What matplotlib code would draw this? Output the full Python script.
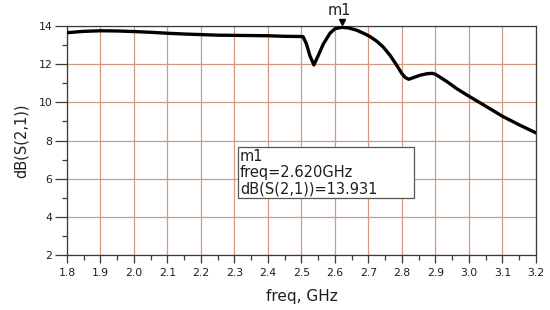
import matplotlib
matplotlib.use("Agg")
import matplotlib.pyplot as plt
import matplotlib.transforms as mtransforms
from matplotlib.patches import Rectangle

plt.rcParams['font.family'] = ['DejaVu Sans']

freq_ghz = [1.80, 1.85, 1.90, 1.95, 2.00, 2.05, 2.10, 2.15, 2.20, 2.25, 2.30,
            2.35, 2.40, 2.45, 2.50, 2.505, 2.515, 2.525, 2.537, 2.55, 2.565,
            2.585, 2.60, 2.62, 2.64, 2.665, 2.69, 2.705, 2.725, 2.744, 2.765,
            2.784, 2.80, 2.81, 2.82, 2.835, 2.854, 2.875, 2.89, 2.90, 2.933,
            2.965, 3.00, 3.05, 3.10, 3.15, 3.20]
db_s21 = [13.65, 13.72, 13.75, 13.74, 13.71, 13.67, 13.62, 13.58, 13.55, 13.52,
          13.51, 13.50, 13.49, 13.46, 13.45, 13.44, 13.05, 12.45, 11.96, 12.45,
          13.05, 13.62, 13.86, 13.93, 13.90, 13.78, 13.58, 13.44, 13.20, 12.90,
          12.45, 11.95, 11.50, 11.30, 11.21, 11.30, 11.42, 11.50, 11.52, 11.47,
          11.10, 10.70, 10.32, 9.80, 9.27, 8.82, 8.40]

marker_name = "m1"
marker_freq = 2.620
marker_val = 13.931

x_ticks = [1.8, 1.9, 2.0, 2.1, 2.2, 2.3, 2.4, 2.5, 2.6, 2.7, 2.8, 2.9, 3.0, 3.1, 3.2]
x_tick_labels = ["1.8", "1.9", "2.0", "2.1", "2.2", "2.3", "2.4", "2.5", "2.6",
                 "2.7", "2.8", "2.9", "3.0", "3.1", "3.2"]
y_ticks = [2, 4, 6, 8, 10, 12, 14]
x_minor = [1.85, 1.95, 2.05, 2.15, 2.25, 2.35, 2.45, 2.55, 2.65, 2.75, 2.85,
           2.95, 3.05, 3.15]
y_minor = [3, 5, 7, 9, 11, 13]

fig = plt.figure(figsize=(5.5, 3.1), dpi=100)
ax = fig.add_axes([0.1218, 0.1774, 0.8527, 0.7387])

grid_color = '#d49a80'
frame_color = '#3a3a3a'
text_color = '#1e1e1e'

ax.set_xlim(1.8, 3.2)
ax.set_ylim(2, 14)
ax.set_xticks(x_ticks)
ax.set_xticklabels(x_tick_labels)
ax.set_yticks(y_ticks)
ax.set_xticks(x_minor, minor=True)
ax.set_yticks(y_minor, minor=True)
ax.grid(True, which='major', color=grid_color, linewidth=0.9)
ax.set_axisbelow(True)

for s in ax.spines.values():
    s.set_color(frame_color)
    s.set_linewidth(0.9)

ax.tick_params(axis='x', which='major', length=6, width=0.9, color=frame_color,
               labelsize=7.8, labelcolor=text_color, pad=3)
ax.tick_params(axis='x', which='minor', length=3.5, width=0.9, color=frame_color)
ax.tick_params(axis='y', which='major', length=8.5, width=0.9, color=frame_color,
               labelsize=7.8, labelcolor=text_color, pad=2)
ax.tick_params(axis='y', which='minor', length=3.5, width=0.9, color=frame_color)

ax.plot(freq_ghz, db_s21, color='black', linewidth=2.4, solid_joinstyle='round',
        solid_capstyle='round', zorder=3)

# marker triangle and label
tri_tr = mtransforms.offset_copy(ax.transData, fig=fig, x=0, y=5, units='dots')
ax.plot([marker_freq], [marker_val], marker='v', color='black', markersize=4.8,
        transform=tri_tr, clip_on=False, zorder=4)
ax.annotate(marker_name, xy=(marker_freq, marker_val), xytext=(-2, 6.5),
            textcoords='offset points', ha='center', va='bottom', fontsize=10.5,
            color=text_color, annotation_clip=False)

# marker readout box
box_left, box_bottom, box_w, box_h = 0.3646, 0.2476, 0.3754, 0.2254
ax.add_patch(Rectangle((box_left, box_bottom), box_w, box_h, transform=ax.transAxes,
                       facecolor='white', edgecolor='#555555', linewidth=0.9,
                       zorder=5))
box_lines = [marker_name, f"freq={marker_freq:.3f}GHz",
             f"dB(S(2,1))={marker_val:.3f}"]
line_y = [0.432, 0.359, 0.287]
for txt, yy in zip(box_lines, line_y):
    ax.text(0.369, yy, txt, transform=ax.transAxes, ha='left', va='center',
            fontsize=10.5, color=text_color, zorder=6)

ax.set_xlabel("freq, GHz", fontsize=11, color=text_color, labelpad=8)
ax.set_ylabel("dB(S(2,1))", fontsize=10.5, color=text_color, labelpad=7)

fig.savefig("out.png", dpi=100)
